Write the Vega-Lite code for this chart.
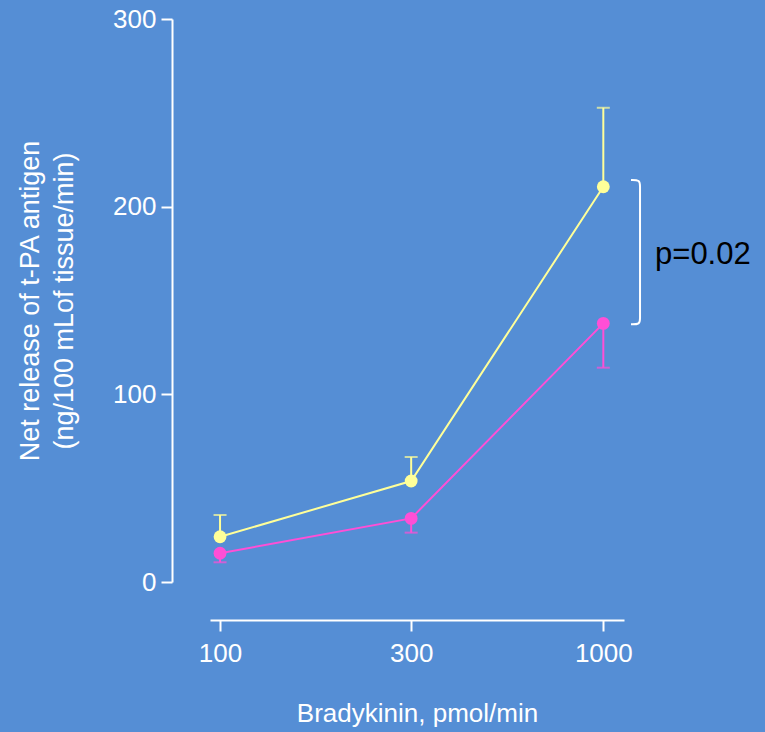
{
  "$schema": "https://vega.github.io/schema/vega-lite/v6.json",
  "autosize": {"type": "none"},
  "width": 414,
  "height": 563,
  "padding": {"left": 210, "top": 19, "right": 141, "bottom": 150},
  "background": "#558ed5",
  "config": {
    "view": {"stroke": null},
    "font": "Liberation Sans",
    "axis": {
      "grid": false,
      "domainColor": "white",
      "domainWidth": 2,
      "tickColor": "white",
      "tickWidth": 2,
      "tickSize": 11,
      "labelColor": "white",
      "labelFont": "Liberation Sans",
      "labelFontSize": 26,
      "titleColor": "white",
      "titleFont": "Liberation Sans",
      "titleFontWeight": "normal",
      "titleFontSize": 26
    }
  },
  "datasets": {
    "series": [
      {"group": "A", "dose": 100, "mean": 24.1, "err": 35.7},
      {"group": "A", "dose": 300, "mean": 53.8, "err": 66.6},
      {"group": "A", "dose": 1000, "mean": 210.6, "err": 252.7},
      {"group": "B", "dose": 100, "mean": 15.3, "err": 10.5},
      {"group": "B", "dose": 300, "mean": 33.9, "err": 26.3},
      {"group": "B", "dose": 1000, "mean": 137.8, "err": 114.2}
    ],
    "bracket": [
      {"k": 0, "dose": 1200.5, "v": 214.2},
      {"k": 1, "dose": 1275, "v": 214.2},
      {"k": 2, "dose": 1275, "v": 211},
      {"k": 3, "dose": 1275, "v": 207},
      {"k": 4, "dose": 1275, "v": 144.5},
      {"k": 5, "dose": 1275, "v": 140.5},
      {"k": 6, "dose": 1275, "v": 137.3},
      {"k": 7, "dose": 1200.5, "v": 137.3}
    ],
    "note": [{"dose": 1410, "v": 174, "label": "p=0.02"}]
  },
  "layer": [
    {
      "data": {"name": "series"},
      "mark": {"type": "line", "strokeWidth": 2},
      "encoding": {
        "x": {
          "field": "dose", "type": "quantitative",
          "scale": {"type": "pow", "exponent": -0.075, "domain": [94.62, 1146.1], "nice": false, "zero": false},
          "axis": {"values": [100, 300, 1000], "format": "d", "offset": 38, "labelPadding": 9,
                   "title": "Bradykinin, pmol/min", "titleY": 101.5, "titleBaseline": "alphabetic"}
        },
        "y": {
          "field": "mean", "type": "quantitative",
          "scale": {"domain": [0, 300], "nice": false},
          "axis": {"values": [0, 100, 200, 300], "offset": 38, "labelPadding": 5,
                   "title": ["Net release of t-PA antigen", "(ng/100 mLof tissue/min)"],
                   "titleFontSize": 27, "titleX": -128, "titleLineHeight": 34}
        },
        "color": {"field": "group", "type": "nominal",
                  "scale": {"domain": ["A", "B"], "range": ["#ffff99", "#ff4fd6"]}, "legend": null}
      }
    },
    {
      "data": {"name": "series"},
      "mark": {"type": "rule", "strokeWidth": 2},
      "encoding": {
        "x": {"field": "dose", "type": "quantitative"},
        "y": {"field": "mean", "type": "quantitative"},
        "y2": {"field": "err"},
        "color": {"field": "group", "type": "nominal"}
      }
    },
    {
      "data": {"name": "series"},
      "mark": {"type": "tick", "orient": "horizontal", "size": 13, "thickness": 2},
      "encoding": {
        "x": {"field": "dose", "type": "quantitative"},
        "y": {"field": "err", "type": "quantitative"},
        "color": {"field": "group", "type": "nominal"}
      }
    },
    {
      "data": {"name": "series"},
      "mark": {"type": "point", "filled": true, "shape": "circle", "size": 165, "opacity": 1},
      "encoding": {
        "x": {"field": "dose", "type": "quantitative"},
        "y": {"field": "mean", "type": "quantitative"},
        "color": {"field": "group", "type": "nominal"}
      }
    },
    {
      "data": {"name": "bracket"},
      "mark": {"type": "line", "color": "white", "strokeWidth": 2, "interpolate": "basis"},
      "encoding": {
        "x": {"field": "dose", "type": "quantitative"},
        "y": {"field": "v", "type": "quantitative"},
        "order": {"field": "k"}
      }
    },
    {
      "data": {"name": "note"},
      "mark": {"type": "text", "align": "left", "baseline": "middle", "fontSize": 31, "color": "black", "font": "Liberation Sans"},
      "encoding": {
        "x": {"field": "dose", "type": "quantitative"},
        "y": {"field": "v", "type": "quantitative"},
        "text": {"field": "label"}
      }
    }
  ]
}
